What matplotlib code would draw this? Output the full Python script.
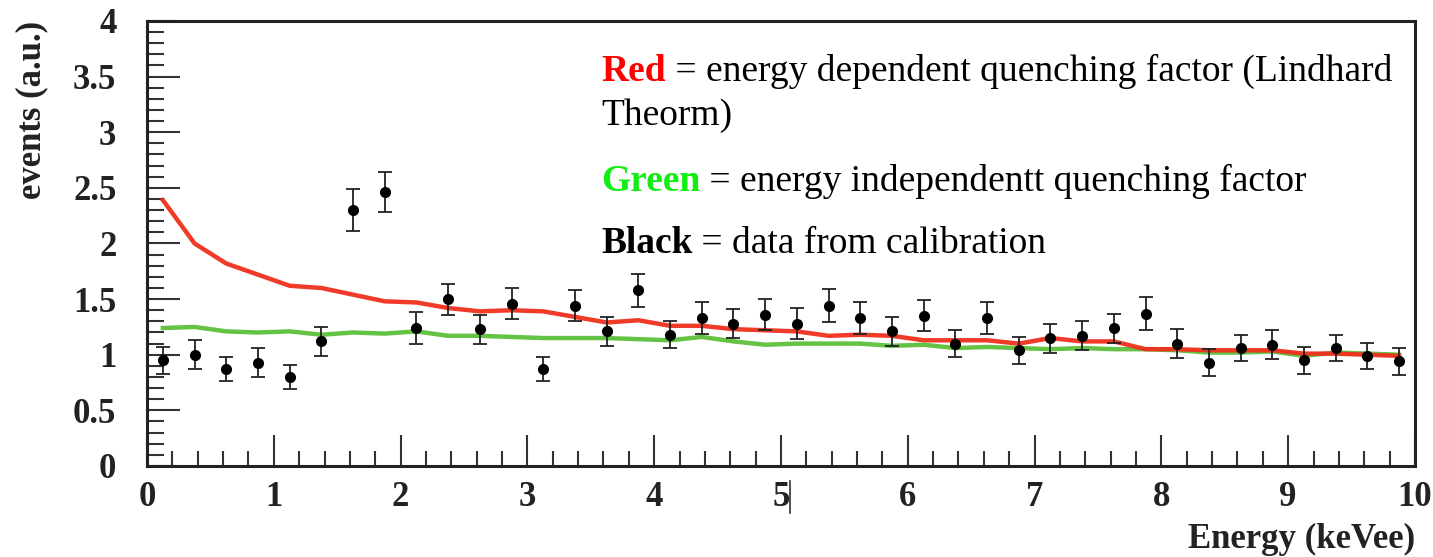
import numpy as np
import matplotlib
matplotlib.use("Agg")
import matplotlib.pyplot as plt
from matplotlib.ticker import MultipleLocator
import matplotlib.transforms as mtransforms

plt.rcParams['font.family'] = ['Liberation Serif', 'DejaVu Serif']

# bin centres, 0.25 keVee bins
energy = [0.125, 0.375, 0.625, 0.875, 1.125, 1.375, 1.625, 1.875, 2.125, 2.375,
          2.625, 2.875, 3.125, 3.375, 3.625, 3.875, 4.125, 4.375, 4.625, 4.875,
          5.125, 5.375, 5.625, 5.875, 6.125, 6.375, 6.625, 6.875, 7.125, 7.375,
          7.625, 7.875, 8.125, 8.375, 8.625, 8.875, 9.125, 9.375, 9.625, 9.875]

# calibration data
data = [0.95, 1.00, 0.87, 0.93, 0.80, 1.12, 2.30, 2.46, 1.24, 1.50,
        1.23, 1.46, 0.87, 1.44, 1.21, 1.58, 1.18, 1.33, 1.28, 1.36,
        1.28, 1.44, 1.33, 1.21, 1.35, 1.10, 1.33, 1.04, 1.15, 1.17,
        1.24, 1.37, 1.10, 0.93, 1.06, 1.09, 0.95, 1.06, 0.99, 0.94]
data_err = [0.12, 0.13, 0.11, 0.13, 0.11, 0.13, 0.19, 0.18, 0.14, 0.14,
            0.13, 0.14, 0.11, 0.14, 0.13, 0.15, 0.12, 0.14, 0.13, 0.14,
            0.14, 0.15, 0.14, 0.13, 0.14, 0.12, 0.14, 0.12, 0.13, 0.13,
            0.13, 0.15, 0.13, 0.12, 0.12, 0.13, 0.12, 0.12, 0.12, 0.12]

# energy dependent quenching (Lindhard)
red_qf = [2.39, 2.00, 1.82, 1.72, 1.62, 1.60, 1.54, 1.48, 1.47, 1.42,
          1.39, 1.40, 1.39, 1.34, 1.29, 1.31, 1.26, 1.26, 1.23, 1.22,
          1.21, 1.17, 1.18, 1.17, 1.13, 1.13, 1.13, 1.10, 1.15, 1.12,
          1.12, 1.05, 1.05, 1.04, 1.04, 1.04, 1.01, 1.01, 1.00, 0.99]

# energy independent quenching
green_qf = [1.24, 1.25, 1.21, 1.20, 1.21, 1.18, 1.20, 1.19, 1.21, 1.17,
            1.17, 1.16, 1.15, 1.15, 1.15, 1.14, 1.13, 1.16, 1.12, 1.09,
            1.10, 1.10, 1.10, 1.08, 1.09, 1.06, 1.07, 1.06, 1.05, 1.06,
            1.05, 1.05, 1.04, 1.02, 1.02, 1.03, 0.99, 1.02, 1.01, 1.00]

fig = plt.figure(figsize=(14.33, 5.57), dpi=100)
ax = fig.add_axes([0.1026, 0.1634, 0.8848, 0.7989])

ax.plot(energy, green_qf, color='#5cbf3a', lw=3.2, alpha=0.95, zorder=2)
ax.plot(energy, red_qf, color='#f0301c', lw=3.2, alpha=0.95, zorder=3)
ax.errorbar(energy, data, yerr=data_err, fmt='o', color='black', ms=7,
            ecolor='#222222', elinewidth=1.3, capsize=5, capthick=1.3, zorder=4)

ax.set_xlim(0, 10)
ax.set_ylim(0, 4)
ax.xaxis.set_major_locator(MultipleLocator(1))
ax.xaxis.set_minor_locator(MultipleLocator(0.2))
ax.yaxis.set_minor_locator(MultipleLocator(0.1))
ax.set_yticks(np.arange(0, 4.01, 0.5))
ax.set_yticklabels(['0', '0.5', '1', '1.5', '2', '2.5', '3', '3.5', '4'])

for s in ax.spines.values():
    s.set_linewidth(2.2)
    s.set_color('#222222')

ax.tick_params(axis='y', which='major', direction='in', length=24, width=1.5,
               pad=22, labelsize=25, color='#333333')
ax.tick_params(axis='y', which='minor', direction='in', length=12, width=1.5,
               color='#333333')
ax.tick_params(axis='x', which='major', direction='in', length=22, width=1.5,
               pad=11, labelsize=25, color='#333333')
ax.tick_params(axis='x', which='minor', direction='in', length=11, width=1.5,
               color='#333333')
for lab in ax.get_xticklabels() + ax.get_yticklabels():
    lab.set_fontweight('bold')
    lab.set_color('#222222')

ax.set_ylabel('events (a.u.)', fontsize=25, fontweight='bold', color='#222222',
              loc='top', labelpad=18)
ax.set_xlabel('Energy (keVee)', fontsize=25, fontweight='bold', color='#222222',
              loc='right', labelpad=6)

# stray bar next to the "5" label
trans = mtransforms.blended_transform_factory(ax.transData, ax.transAxes)
ax.plot([5.07, 5.07], [-0.033, -0.105], transform=trans, color='#333333',
        lw=1.2, clip_on=False)


def key_line(y, word, color, rest):
    head = ax.text(0.358, y, word, transform=ax.transAxes, fontsize=27,
                   fontweight='bold', color=color, va='baseline')
    ax.annotate(' ' + rest, xy=(1, 0), xycoords=head, fontsize=27,
                color='black', va='bottom')


key_line(0.866, 'Red', '#ff0000', '= energy dependent quenching factor (Lindhard')
ax.text(0.358, 0.766, 'Theorm)', transform=ax.transAxes, fontsize=27,
        color='black', va='baseline')
key_line(0.618, 'Green', '#11ee11', '= energy independentt quenching factor')
key_line(0.478, 'Black', 'black', '= data from calibration')

fig.savefig('out.png', dpi=100)
